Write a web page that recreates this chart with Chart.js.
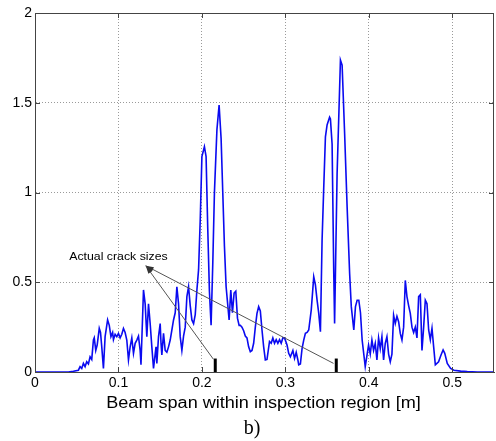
<!DOCTYPE html>
<html>
<head>
<meta charset="utf-8">
<script src="https://cdn.jsdelivr.net/npm/chart.js@4.4.0/dist/chart.umd.min.js"></script>
<style>
  html, body { margin: 0; padding: 0; background: #fff; }
  #wrap { width: 496px; height: 441px; }
</style>
</head>
<body>
<div id="wrap"><canvas id="myChart"></canvas></div>
<script>
// position along the beam [m]
const spanPos = [
  0, 0.02, 0.04, 0.046, 0.052, 0.054, 0.056, 0.058, 0.060, 0.062, 0.064, 0.066, 0.068,
  0.070, 0.071, 0.0728, 0.0745, 0.077, 0.0785, 0.080, 0.082, 0.084, 0.087, 0.089, 0.091,
  0.093, 0.094, 0.096, 0.098, 0.100, 0.102, 0.104, 0.106, 0.108, 0.110, 0.112, 0.114,
  0.116, 0.118, 0.120, 0.122, 0.124, 0.126, 0.127, 0.130, 0.132, 0.134, 0.136, 0.138,
  0.140, 0.142, 0.144, 0.145, 0.146, 0.148, 0.150, 0.151, 0.152, 0.154, 0.156, 0.158,
  0.160, 0.162, 0.164, 0.166, 0.168, 0.170, 0.172, 0.174, 0.176, 0.178, 0.180, 0.182,
  0.184, 0.186, 0.188, 0.190, 0.192, 0.194, 0.196, 0.198, 0.200, 0.203, 0.205, 0.207,
  0.209, 0.211, 0.213, 0.215, 0.218, 0.2206, 0.223, 0.225, 0.227, 0.229, 0.2326, 0.2346,
  0.2366, 0.2386, 0.2406, 0.2426, 0.2446, 0.246, 0.248, 0.250, 0.252, 0.254, 0.256, 0.258,
  0.260, 0.262, 0.264, 0.266, 0.268, 0.270, 0.272, 0.274, 0.276, 0.278, 0.281, 0.283,
  0.285, 0.287, 0.289, 0.291, 0.293, 0.295, 0.297, 0.299, 0.302, 0.304, 0.306, 0.309,
  0.311, 0.313, 0.315, 0.316, 0.318, 0.320, 0.322, 0.324, 0.326, 0.328, 0.331, 0.334,
  0.336, 0.338, 0.340, 0.342, 0.344, 0.346, 0.348, 0.350, 0.353, 0.354, 0.356, 0.358,
  0.359, 0.362, 0.366, 0.368, 0.371, 0.374, 0.377, 0.379, 0.382, 0.384, 0.386, 0.388,
  0.390, 0.392, 0.3957, 0.3997, 0.4017, 0.4037, 0.4057, 0.4077, 0.4097, 0.4117, 0.4137,
  0.4157, 0.4177, 0.4197, 0.4217, 0.4237, 0.4257, 0.4277, 0.4297, 0.4317, 0.4337, 0.4357,
  0.4377, 0.4397, 0.4417, 0.4437, 0.4457, 0.4477, 0.4497, 0.4517, 0.4537, 0.4557, 0.4577,
  0.4597, 0.4617, 0.4637, 0.4657, 0.4677, 0.4697, 0.4717, 0.4737, 0.4757, 0.4777, 0.4797,
  0.4836, 0.4865, 0.489, 0.491, 0.494, 0.498, 0.502, 0.510, 0.518, 0.530, 0.550
];
// damage indicator amplitude
const amplitude = [
  0, 0, 0, 0.004, 0.01, 0.03, 0.02, 0.048, 0.03, 0.057, 0.045, 0.085, 0.07,
  0.178, 0.19, 0.12, 0.15, 0.243, 0.22, 0.14, 0.02, 0.197, 0.29, 0.26, 0.197,
  0.22, 0.18, 0.21, 0.197, 0.215, 0.19, 0.21, 0.243, 0.22, 0.178, 0.067, 0.14,
  0.19, 0.104, 0.16, 0.178, 0.2, 0.12, 0.04, 0.457, 0.38, 0.197, 0.38, 0.27,
  0.14, 0.02, 0.1, 0.14, 0.048, 0.197, 0.27, 0.16, 0.095, 0.215, 0.12, 0.11,
  0.14, 0.178, 0.234, 0.29, 0.33, 0.475, 0.38, 0.197, 0.12, 0.2, 0.25, 0.42,
  0.475, 0.37, 0.29, 0.27, 0.32, 0.457, 0.57, 0.85, 1.2, 1.255, 1.2, 0.8,
  0.45, 0.26, 0.6, 1.0, 1.35, 1.487, 1.3, 1.0, 0.7, 0.475, 0.29, 0.457,
  0.33, 0.44, 0.45, 0.3, 0.26, 0.26, 0.25, 0.23, 0.2, 0.19, 0.14, 0.113,
  0.12, 0.16, 0.25, 0.327, 0.364, 0.34, 0.234, 0.14, 0.067, 0.07, 0.17, 0.16,
  0.19, 0.16, 0.18, 0.16, 0.18, 0.16, 0.19, 0.19, 0.15, 0.104, 0.085, 0.12,
  0.076, 0.11, 0.067, 0.04, 0.045, 0.13, 0.178, 0.215, 0.22, 0.234, 0.345, 0.53,
  0.485, 0.40, 0.327, 0.225, 0.735, 1.03, 1.31, 1.376, 1.42, 1.41, 1.27, 0.55,
  0.27, 1.106, 1.738, 1.71, 1.33, 0.92, 0.55, 0.364, 0.234, 0.364, 0.40, 0.40,
  0.33, 0.178, 0.03, 0.15, 0.1, 0.178, 0.12, 0.16, 0.067, 0.19, 0.13,
  0.197, 0.067, 0.16, 0.197, 0.1, 0.057, 0.1, 0.317, 0.27, 0.31, 0.28,
  0.215, 0.178, 0.25, 0.51, 0.42, 0.37, 0.327, 0.25, 0.22, 0.25, 0.19,
  0.42, 0.43, 0.12, 0.25, 0.40, 0.38, 0.234, 0.18, 0.243, 0.14, 0.04,
  0.057, 0.095, 0.123, 0.104, 0.048, 0.02, 0.01, 0.005, 0.002, 0, 0
];

const xTicks = [0, 0.1, 0.2, 0.3, 0.4, 0.5];
const yTicks = [0, 0.5, 1, 1.5, 2];

// true crack locations and marker height
const crackPos = [0.216, 0.361];
const crackMarkTop = 0.075;

const noteText = 'Actual crack sizes';
const noteAt = [0.1, 0.64];
const arrowTip = [0.1327, 0.592];
const arrowTails = [[0.2138, 0.071], [0.3577, 0.048]];

const xTitle = 'Beam span within inspection region [m]';
const subLabel = 'b)';

const signal = spanPos.map((p, i) => ({ x: p, y: amplitude[i] }));

const crackSets = crackPos.map(p => ({
  data: [{ x: p, y: 0 }, { x: p, y: crackMarkTop }],
  borderColor: '#000',
  borderWidth: 3,
  pointRadius: 0,
  borderCapStyle: 'butt'
}));

// text drawn a little wider than the font, like the exported figure
function wideText(ctx, str, cx, cy, sx) {
  ctx.save();
  ctx.translate(cx, cy);
  ctx.scale(sx, 1);
  ctx.fillText(str, 0, 0);
  ctx.restore();
}

const extras = {
  id: 'extras',
  afterDraw(chart) {
    const { ctx, chartArea: a, scales: { x, y } } = chart;
    ctx.save();
    // box on top and right plus inward ticks
    ctx.strokeStyle = '#444';
    ctx.lineWidth = 1;
    ctx.beginPath();
    ctx.moveTo(a.left, a.top + 0.5);
    ctx.lineTo(a.right - 0.5, a.top + 0.5);
    ctx.lineTo(a.right - 0.5, a.bottom);
    const tl = 5;
    xTicks.forEach(v => {
      const px = Math.round(x.getPixelForValue(v)) + 0.5;
      ctx.moveTo(px, a.bottom); ctx.lineTo(px, a.bottom - tl);
      ctx.moveTo(px, a.top); ctx.lineTo(px, a.top + tl);
    });
    yTicks.forEach(v => {
      const py = Math.round(y.getPixelForValue(v)) + 0.5;
      ctx.moveTo(a.left, py); ctx.lineTo(a.left + tl, py);
      ctx.moveTo(a.right, py); ctx.lineTo(a.right - tl, py);
    });
    ctx.stroke();

    // arrows from the markers to the note
    const tx = x.getPixelForValue(arrowTip[0]);
    const ty = y.getPixelForValue(arrowTip[1]);
    ctx.strokeStyle = '#555';
    ctx.fillStyle = '#333';
    arrowTails.forEach(t => {
      const sx = x.getPixelForValue(t[0]);
      const sy = y.getPixelForValue(t[1]);
      ctx.beginPath();
      ctx.moveTo(sx, sy);
      ctx.lineTo(tx, ty);
      ctx.stroke();
      const ang = Math.atan2(ty - sy, tx - sx);
      const len = 8, hw = 2.5;
      ctx.beginPath();
      ctx.moveTo(tx, ty);
      ctx.lineTo(tx - len * Math.cos(ang) + hw * Math.sin(ang), ty - len * Math.sin(ang) - hw * Math.cos(ang));
      ctx.lineTo(tx - len * Math.cos(ang) - hw * Math.sin(ang), ty - len * Math.sin(ang) + hw * Math.cos(ang));
      ctx.closePath();
      ctx.fill();
    });

    ctx.fillStyle = '#000';
    ctx.textAlign = 'center';
    ctx.textBaseline = 'middle';
    ctx.font = '11px Arial';
    wideText(ctx, noteText, x.getPixelForValue(noteAt[0]), y.getPixelForValue(noteAt[1]), 1.12);

    ctx.font = '16px Arial';
    wideText(ctx, xTitle, (a.left + a.right) / 2 - 1, 404, 1.13);
    ctx.font = '20px "Liberation Serif", "Times New Roman", serif';
    ctx.fillText(subLabel, 252, 429);
    ctx.restore();
  }
};

const chartContext = document.getElementById('myChart').getContext('2d');
const myChart = new Chart(chartContext, {
  type: 'line',
  data: {
    datasets: [
      ...crackSets,
      {
        data: signal,
        borderColor: '#0a0af0',
        borderWidth: 1.6,
        pointRadius: 0,
        tension: 0
      }
    ]
  },
  options: {
    responsive: true,
    maintainAspectRatio: false,
    animation: false,
    layout: { autoPadding: false, padding: { top: 13, right: 2, left: 0, bottom: 0 } },
    plugins: { legend: { display: false }, tooltip: { enabled: false } },
    scales: {
      x: {
        type: 'linear',
        min: 0,
        max: 0.55,
        afterBuildTicks: s => { s.ticks = xTicks.map(v => ({ value: v })); },
        afterFit: s => { s.height = 69; },
        grid: { color: '#9a9a9a', lineWidth: 1, drawTicks: false },
        border: { color: '#444', dash: [1, 2] },
        ticks: { color: '#000', font: { family: 'Arial', size: 14 }, padding: 3, maxRotation: 0, callback: v => String(v) }
      },
      y: {
        min: 0,
        max: 2,
        afterBuildTicks: s => { s.ticks = yTicks.map(v => ({ value: v })); },
        afterFit: s => { s.width = 35; },
        grid: { color: '#9a9a9a', lineWidth: 1, drawTicks: false },
        border: { color: '#444', dash: [1, 2] },
        ticks: { color: '#000', font: { family: 'Arial', size: 14 }, padding: 3, callback: v => String(v) }
      }
    }
  },
  plugins: [extras]
});
</script>
</body>
</html>
